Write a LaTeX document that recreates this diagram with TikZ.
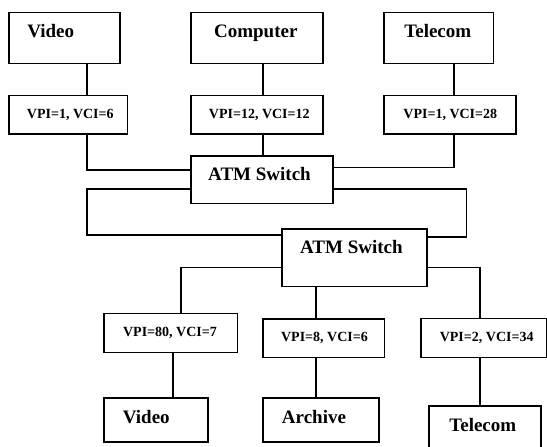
\documentclass[tikz,border=0pt]{standalone}
\usepackage{fontspec}
\setmainfont{Liberation Serif}
\newcommand\bigtxt{\fontsize{19}{21}\selectfont\bfseries}
\newcommand\smalltxt{\fontsize{14}{16}\selectfont\bfseries}
\begin{document}
\begin{tikzpicture}[x=1pt,y=-1pt,
  box/.style={draw, line width=1.6pt, inner sep=0pt, outer sep=0pt, rectangle},
  big/.style={anchor=base, inner sep=0pt, font=\bigtxt},
  small/.style={anchor=base, inner sep=0pt, font=\smalltxt},
  wire/.style={line width=1.6pt}]
\useasboundingbox (0,0) rectangle (547,447);
\clip (0,0) rectangle (547,447);
% boxes
\node[box, minimum width=111.3pt, minimum height=51pt] (vidT) at (64.35,37.8) {};
\node[box, minimum width=132pt, minimum height=51pt] (compT) at (257,37.8) {};
\node[box, minimum width=109.3pt, minimum height=51pt] (telT) at (438.65,37.8) {};
\node[box, minimum width=118.6pt, minimum height=38.5pt] (vpi1) at (68,114.75) {};
\node[box, minimum width=132pt, minimum height=38.5pt] (vpi2) at (257,114.75) {};
\node[box, minimum width=132pt, minimum height=38.5pt] (vpi3) at (450,114.75) {};
\node[box, minimum width=142pt, minimum height=47.6pt] (sw1) at (261.7,179.5) {};
\node[box, minimum width=145.3pt, minimum height=57.5pt] (sw2) at (354.35,257.75) {};
\node[box, minimum width=133.3pt, minimum height=39pt] (vpiA) at (170.65,332.8) {};
\node[box, minimum width=121.8pt, minimum height=38.3pt] (vpiB) at (323.6,338.15) {};
\node[box, minimum width=125.8pt, minimum height=39pt] (vpiC) at (483.6,337.8) {};
\node[box, minimum width=103.7pt, minimum height=44pt] (vidB) at (155.85,420) {};
\node[box, minimum width=116pt, minimum height=44pt] (arcB) at (320.7,420) {};
\node[box, minimum width=112pt, minimum height=49pt] (telB) at (485,430.5) {};
% labels
\node[big] (tvidT) at (50.7,37.8) {Video};
\node[big] (tcompT) at (255.8,37.8) {Computer};
\node[big] (ttelT) at (437.8,37.8) {Telecom};
\node[small] (tvpi1) at (70.3,118.3) {VPI=1, VCI=6};
\node[small] (tvpi2) at (259.3,118.3) {VPI=12, VCI=12};
\node[small] (tvpi3) at (450.3,118.3) {VPI=1, VCI=28};
\node[big] (tsw1) at (259.5,180.7) {ATM Switch};
\node[big] (tsw2) at (351.4,253.7) {ATM Switch};
\node[small] (tvpiA) at (170,336) {VPI=80, VCI=7};
\node[small] (tvpiB) at (324.5,341.7) {VPI=8, VCI=6};
\node[small] (tvpiC) at (486.7,341.7) {VPI=2, VCI=34};
\node[big] (tvidB) at (146.3,423.3) {Video};
\node[big] (tarcB) at (314,423.3) {Archive};
\node[big] (ttelB) at (482.8,431.3) {Telecom};
% line positions
\coordinate (xa) at (87,0);
\coordinate (xb) at (263,0);
\coordinate (xc) at (454,0);
\coordinate (xe) at (466.5,0);
\coordinate (xf) at (181,0);
\coordinate (xg) at (316,0);
\coordinate (xh) at (480,0);
\coordinate (xi) at (173,0);
\coordinate (ya) at (0,170);
\coordinate (yc) at (0,167.3);
\coordinate (yd) at (0,189);
\coordinate (ye) at (0,235);
\coordinate (yf) at (0,237);
\coordinate (yg) at (0,267.5);
% connectors
\draw[wire] (vidT.south -| xa) -- (vpi1.north -| xa);
\draw[wire] (compT.south -| xb) -- (vpi2.north -| xb);
\draw[wire] (telT.south -| xc) -- (vpi3.north -| xc);
\draw[wire] (vpi1.south -| xa) |- (sw1.west |- ya);
\draw[wire] (vpi2.south -| xb) -- (sw1.north -| xb);
\draw[wire] (vpi3.south -| xc) |- (sw1.east |- yc);
\draw[wire] (sw1.west |- yd) -| (xa |- ye) -- (sw2.west |- ye);
\draw[wire] (sw1.east |- yd) -| (xe |- yf) -- (sw2.east |- yf);
\draw[wire] (sw2.west |- yg) -| (vpiA.north -| xf);
\draw[wire] (sw2.south -| xg) -- (vpiB.north -| xg);
\draw[wire] (sw2.east |- yg) -| (vpiC.north -| xh);
\draw[wire] (vpiA.south -| xi) -- (vidB.north -| xi);
\draw[wire] (vpiB.south -| xg) -- (arcB.north -| xg);
\draw[wire] (vpiC.south -| xh) -- (telB.north -| xh);
\end{tikzpicture}
\end{document}
